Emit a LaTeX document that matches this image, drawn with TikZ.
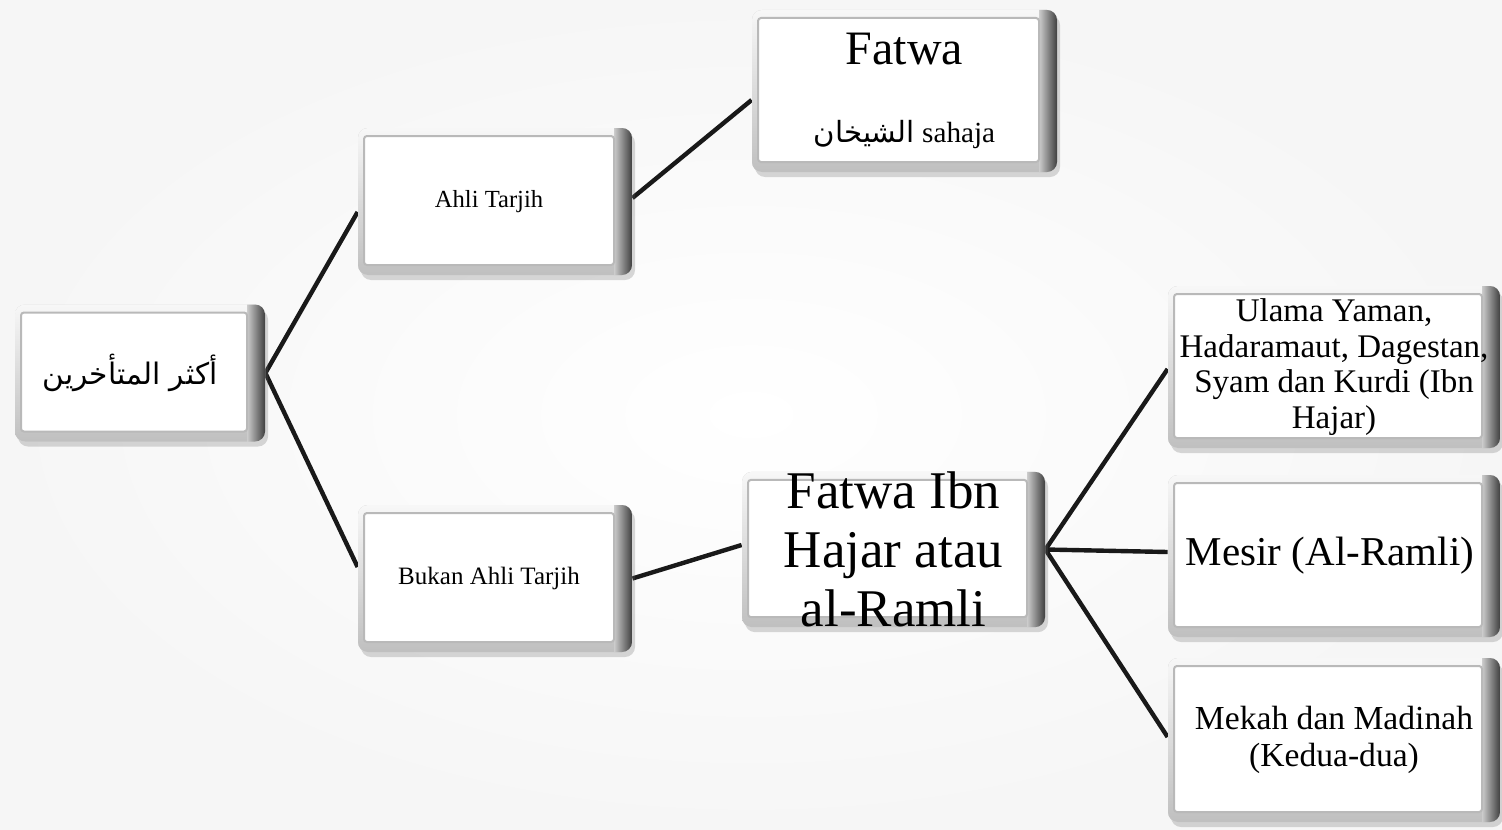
\documentclass[tikz,border=0pt]{standalone}
\usepackage{fontspec}
\setmainfont{Liberation Serif}
\newfontfamily\arabicfont[Script=Arabic]{DejaVu Sans}
\TeXXeTstate=1
\usetikzlibrary{shadows,backgrounds}
\tikzset{
  bev/.style={rectangle, rounded corners=5pt, inner sep=0pt, align=center,
    drop shadow={shadow xshift=1.5pt, shadow yshift=-2.5pt, opacity=0.25, fill=black!60},
    fill=gray!30,
    path picture={
      \fill[sharp corners, top color=gray!6, bottom color=gray!50]
        (path picture bounding box.south west) rectangle (path picture bounding box.north east);
      \fill[sharp corners, left color=gray!40, right color=black!75]
        ([xshift=-9pt]path picture bounding box.south east) rectangle (path picture bounding box.north east);
      \draw[fill=white, draw=gray!55, line width=1pt, rounded corners=1.5pt]
        ([xshift=3pt,yshift=-4pt]path picture bounding box.north west) rectangle
        ([xshift=-9pt,yshift=5pt]path picture bounding box.south east);
    }},
  conn/.style={line width=2.2pt, black!90},
}
\begin{document}
\begin{tikzpicture}[x=0.5pt,y=-0.5pt]
\useasboundingbox (0,0) rectangle (1502,829);
\node[bev, minimum width=125pt, minimum height=68.5pt, font={\fontsize{14.8}{17}\arabicfont}] (A) at (140,373)
  {\beginR أكثر المتأخرين\endR\kern10pt};
\node[bev, minimum width=137pt, minimum height=73.5pt, font={\fontsize{12.3}{14}\selectfont}] (B) at (495,201.5)
  {Ahli Tarjih\kern6pt};
\node[bev, minimum width=152.5pt, minimum height=81pt] (C) at (904.5,91)
  {\fontsize{24}{24}\selectfont Fatwa\\[27pt]
   \fontsize{14.6}{16}\selectfont{\arabicfont\beginR الشيخان\endR} sahaja};
\node[bev, minimum width=137pt, minimum height=73.5pt, font={\fontsize{12.5}{14}\selectfont}] (D) at (495,578.5)
  {Bukan Ahli Tarjih\kern6pt};
\node[bev, minimum width=151.5pt, minimum height=77.5pt, font={\fontsize{26.5}{29.5}\selectfont}] (E) at (893.5,549.5)
  {Fatwa Ibn\\Hajar atau\\al-Ramli};
\node[bev, minimum width=166pt, minimum height=81pt, font={\fontsize{16.5}{17.8}\selectfont}] (F) at (1334,367)
  {Ulama Yaman,\\Hadaramaut, Dagestan,\\Syam dan Kurdi (Ibn\\Hajar)};
\node[bev, minimum width=166pt, minimum height=81pt, font={\fontsize{20.5}{24}\selectfont}] (G) at (1334,556)
  {Mesir (Al-Ramli)\kern4pt};
\node[bev, minimum width=166pt, minimum height=82pt, font={\fontsize{16.8}{18.5}\selectfont}] (H) at (1334,740)
  {Mekah dan Madinah\\(Kedua-dua)};
\begin{pgfonlayer}{background}
  \fill[inner color=white, outer color=gray!7] (0,0) rectangle (1502,829);
  \draw[conn] (A.east) -- ([yshift=-5.25pt]B.west);
  \draw[conn] (A.east) -- ([yshift=5.75pt]D.west);
  \draw[conn] ([yshift=1.75pt]B.east) -- ([yshift=-4.5pt]C.west);
  \draw[conn] (D.east) -- ([yshift=2.25pt]E.west);
  \draw[conn] (E.east) -- ([yshift=-1pt]F.west);
  \draw[conn] (E.east) -- ([yshift=2pt]G.west);
  \draw[conn] (E.east) -- ([yshift=1.5pt]H.west);
\end{pgfonlayer}
\end{tikzpicture}
\end{document}
